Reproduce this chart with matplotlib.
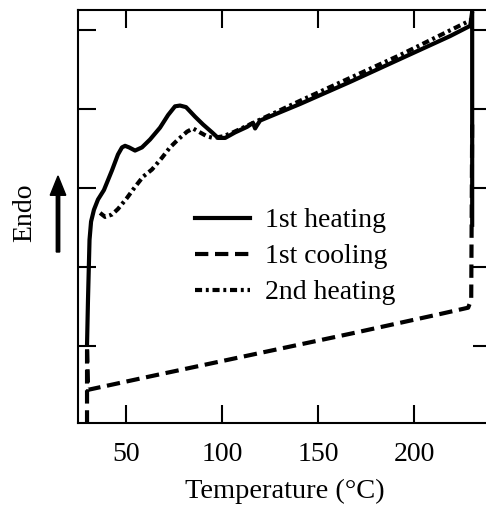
import matplotlib.pyplot as plt
from matplotlib.patches import FancyArrow

# 1st heating (solid)
heat1_t = [29.7, 30.2, 31.0, 31.8, 33.3, 35.4, 38.5, 42.7, 45.8, 47.9, 49.5, 51.6,
           54.7, 58.3, 62.5, 67.7, 71.9, 75.5, 78.1, 81.25, 85.9, 90.1, 94.8, 97.9,
           101.6, 106.8, 113.0, 116.1, 117.2, 118.2, 119.8, 140.6, 166.7, 192.7,
           218.75, 229.2, 230.2, 230.2]
heat1_y = [1.01, 1.58, 2.34, 2.57, 2.72, 2.85, 2.97, 3.22, 3.42, 3.51, 3.53, 3.51,
           3.47, 3.51, 3.61, 3.76, 3.92, 4.03, 4.04, 4.02, 3.90, 3.80, 3.70, 3.63,
           3.63, 3.70, 3.77, 3.82, 3.75, 3.79, 3.85, 4.06, 4.34, 4.63,
           4.92, 5.05, 5.23, 2.53]

# 1st cooling (dashed)
cool1_t = [230.2, 229.7, 228.1, 213.5, 166.7, 114.6, 62.5, 30.2, 29.7, 29.7]
cool1_y = [3.80, 1.58, 1.48, 1.40, 1.15, 0.88, 0.61, 0.44, 0.99, -0.10]

# 2nd heating (dash-dot)
heat2_t = [36.5, 39.1, 42.7, 45.8, 50.5, 54.7, 58.9, 63.5, 68.75, 72.9, 77.1, 81.8,
           84.9, 88.5, 92.2, 95.3, 100.5, 105.7, 140.6, 192.7, 230.2]
heat2_y = [2.68, 2.63, 2.66, 2.73, 2.87, 3.01, 3.14, 3.23, 3.38, 3.51, 3.61, 3.71,
           3.75, 3.70, 3.65, 3.63, 3.65, 3.70, 4.10, 4.68, 5.13]

x_ticks = [50, 100, 150, 200]
y_ticks = [1, 2, 3, 4, 5]

plt.rcParams['font.family'] = ['Liberation Serif', 'DejaVu Serif']

fig = plt.figure(figsize=(4.86, 5.07), dpi=100)
ax = fig.add_axes([78 / 486, 84 / 507, (491 - 78) / 486, (423 - 10) / 507])

ax.plot(heat1_t, heat1_y, color='black', lw=3.0, solid_joinstyle='round',
        label='1st heating')
ax.plot(cool1_t, cool1_y, color='black', lw=3.0, dashes=(3.2, 1.6),
        label='1st cooling')
ax.plot(heat2_t, heat2_y, color='black', lw=3.0, dashes=(1.7, 0.9, 0.7, 0.9),
        label='2nd heating')

ax.set_xlim(25, 240)
ax.set_ylim(0.02, 5.25)
ax.set_xticks(x_ticks)
ax.set_yticks(y_ticks)
ax.set_yticklabels([])
ax.tick_params(direction='in', length=13, width=1.5, top=True, right=True,
               labelsize=20, pad=14)
for s in ax.spines.values():
    s.set_linewidth(1.5)

ax.set_xlabel('Temperature (\u00b0C)', fontsize=20.5, labelpad=8)

ax.legend(loc='upper left', bbox_to_anchor=(0.283, 0.521), frameon=False,
          fontsize=20, handlelength=2.0, handletextpad=0.54,
          labelspacing=0.38, borderpad=0, borderaxespad=0)

fig.text(25 / 486, 1 - 213 / 507, 'Endo', rotation=90, fontsize=20,
         ha='center', va='center')
fig.patches.append(FancyArrow(
    58 / 486, 1 - 252 / 507, 0, 76 / 507, width=0.007, head_width=0.032,
    head_length=0.038, length_includes_head=True, color='black',
    transform=fig.transFigure, figure=fig))

fig.savefig('out.png', dpi=100)
